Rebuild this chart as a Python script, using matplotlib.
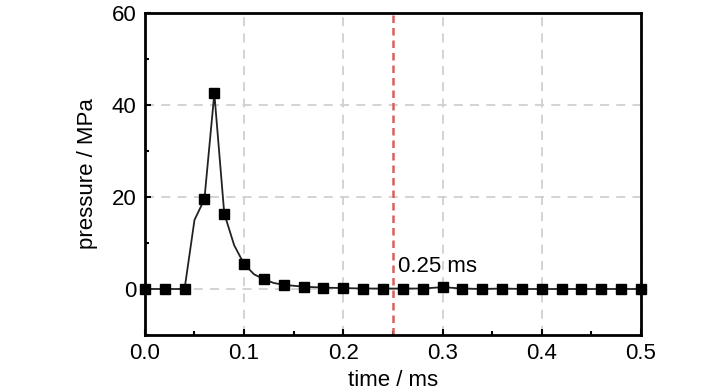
import numpy as np
import matplotlib.pyplot as plt
from matplotlib.ticker import MultipleLocator

plt.rcParams['font.family'] = ['Liberation Sans', 'DejaVu Sans']

# pressure curve (line points)
t_line = [0.0, 0.02, 0.04, 0.05, 0.06, 0.07, 0.08, 0.09, 0.10, 0.11, 0.12, 0.13,
          0.14, 0.16, 0.18, 0.20, 0.22, 0.24, 0.26, 0.28, 0.30, 0.32, 0.34, 0.36,
          0.38, 0.40, 0.42, 0.44, 0.46, 0.48, 0.50]
p_line = [0.0, 0.0, 0.0, 15.0, 19.5, 42.5, 16.4, 9.5, 5.4, 3.2, 2.1, 1.3,
          0.9, 0.5, 0.3, 0.2, 0.1, 0.1, 0.1, 0.1, 0.4, 0.1, 0.0, 0.1,
          0.0, 0.0, 0.0, 0.0, 0.0, 0.0, 0.0]

# marker points
t_mark = [0.0, 0.02, 0.04, 0.06, 0.07, 0.08, 0.10, 0.12, 0.14, 0.16, 0.18, 0.20,
          0.22, 0.24, 0.26, 0.28, 0.30, 0.32, 0.34, 0.36, 0.38, 0.40, 0.42, 0.44,
          0.46, 0.48, 0.50]
p_mark = [0.0, 0.0, 0.0, 19.5, 42.5, 16.4, 5.4, 2.1, 0.9, 0.5, 0.3, 0.2,
          0.1, 0.1, 0.1, 0.1, 0.4, 0.1, 0.0, 0.1, 0.0, 0.0, 0.0, 0.0,
          0.0, 0.0, 0.0]

t_mark_line = 0.25

fig = plt.figure(figsize=(7.28, 3.9), dpi=100)
ax = fig.add_axes([0.199, 0.141, 0.6815, 0.826])

ax.grid(True, which='major', color='#d0d0d0', linestyle=(0, (5, 4)), linewidth=1.3)
ax.plot(t_line, p_line, color='#222222', linewidth=1.3, zorder=3)
ax.plot(t_mark, p_mark, linestyle='none', marker='s', markersize=7.5,
        color='black', zorder=4, clip_on=False)
ax.axvline(t_mark_line, color='#d8605c', linestyle=(0, (3, 2)), linewidth=1.8, zorder=2)
ax.text(t_mark_line + 0.005, 3.6, '0.25 ms', fontsize=16)

ax.set_xlim(0, 0.5)
ax.set_ylim(-10, 60)
ax.xaxis.set_minor_locator(MultipleLocator(0.05))
ax.yaxis.set_major_locator(MultipleLocator(20))
ax.yaxis.set_minor_locator(MultipleLocator(10))
ax.set_xticks([0, 0.1, 0.2, 0.3, 0.4, 0.5])
ax.set_xticklabels(['0.0', '0.1', '0.2', '0.3', '0.4', '0.5'])

ax.tick_params(which='both', direction='in', labelsize=16, width=1.5)
ax.tick_params(which='major', length=4, pad=6)
ax.tick_params(which='minor', length=3)
for s in ax.spines.values():
    s.set_linewidth(2)

ax.set_xlabel('time / ms', fontsize=16, labelpad=4)
ax.set_ylabel('pressure / MPa', fontsize=16, labelpad=10)

fig.savefig('out.png', dpi=100)
